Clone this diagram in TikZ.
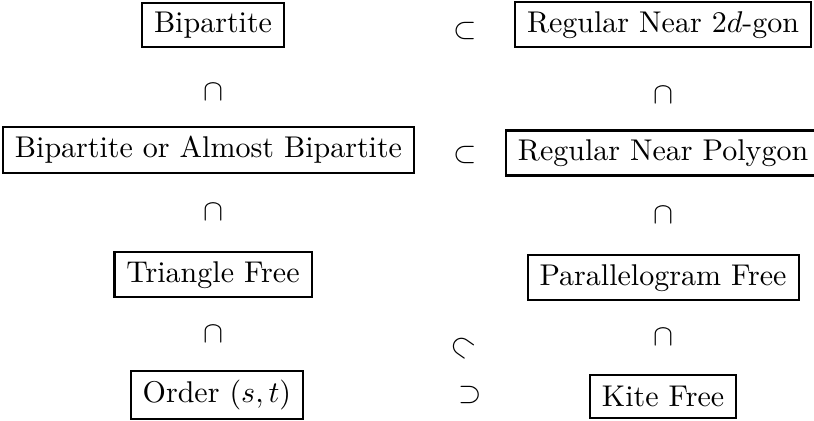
\documentclass[tikz,border=0pt]{standalone}
\usetikzlibrary{positioning}
\tikzstyle{cls} = [rectangle, draw, line width=0.7pt, inner xsep=4pt, inner ysep=3pt, minimum height=14.5pt]
\tikzstyle{rel} = [inner sep=0pt]

\begin{document}
\begin{tikzpicture}
\useasboundingbox (-71pt,8.3pt) rectangle (200.3pt,-132pt);

\node [cls] (bip) {Bipartite};
\node [rel, right of = bip, node distance = 84pt, yshift=-2pt] (sub1) {$\subset$};
\node [cls, right of = bip, node distance = 150pt] (rn2d) {Regular Near $2d$-gon};

\node [rel, below of = bip, node distance = 22.3pt] (capl1) {$\cap$};
\node [rel, below of = rn2d, node distance = 23.3pt] (capr1) {$\cap$};

\node [cls, below of = bip, node distance = 41.7pt, xshift=-1.5pt] (bab) {Bipartite or Almost Bipartite};
\node [rel, right of = bab, node distance = 85.5pt, yshift=-1.5pt] (sub2) {$\subset$};
\node [cls, right of = bab, node distance = 151.5pt, yshift=-1pt] (rnp) {Regular Near Polygon};

\node [rel, below of = bip, node distance = 62.5pt] (capl2) {$\cap$};
\node [rel, below of = rn2d, node distance = 63.5pt] (capr2) {$\cap$};

\node [cls, below of = bip, node distance = 83.3pt] (tf) {Triangle Free};
\node [rel, right of = tf, node distance = 83pt, yshift=-24pt, rotate=-35] (subd) {$\subset$};
\node [cls, right of = tf, node distance = 150pt, yshift=-1pt] (pf) {Parallelogram Free};

\node [rel, below of = bip, node distance = 103pt] (capl3) {$\cap$};
\node [rel, below of = rn2d, node distance = 104pt] (capr3) {$\cap$};

\node [cls, below of = bip, node distance = 123.3pt, xshift=1.3pt] (ord) {Order $(s,t)$};
\node [rel, right of = ord, node distance = 84.5pt] (sup) {$\supset$};
\node [cls, right of = ord, node distance = 148.7pt, yshift=-0.5pt] (kf) {Kite Free};
\end{tikzpicture}
\end{document}
